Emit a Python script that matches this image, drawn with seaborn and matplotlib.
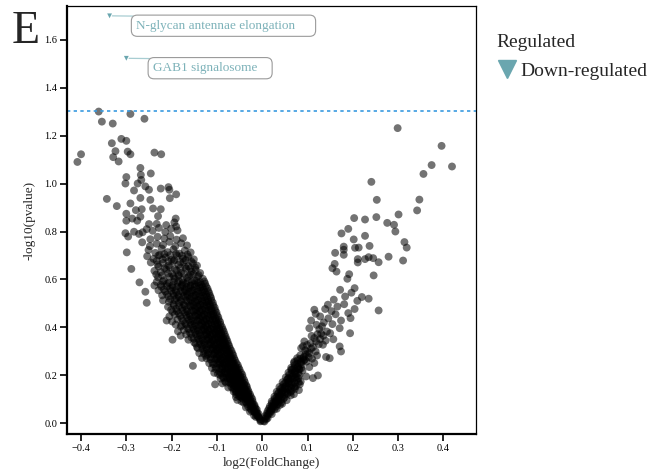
import numpy as np
import pandas as pd
import seaborn as sns
import matplotlib.pyplot as plt
from matplotlib.lines import Line2D
from matplotlib.patches import BoxStyle

# ---------------- data (log2 fold change, -log10 p) ----------------
left_core = [
    (-0.003,0.012),(-0.005,0.018),(-0.007,0.025),(-0.004,0.009),(-0.009,0.031),(-0.011,0.042),(-0.013,0.036),(-0.016,0.047),(-0.008,0.040),
    (-0.012,0.058),(-0.015,0.063),(-0.019,0.055),(-0.022,0.068),(-0.026,0.061),(-0.017,0.077),(-0.021,0.083),(-0.024,0.079),(-0.028,0.088),(-0.033,0.081),
    (-0.022,0.102),(-0.026,0.097),(-0.030,0.106),(-0.034,0.099),(-0.038,0.108),(-0.043,0.103),(-0.049,0.112),(-0.055,0.098),
    (-0.027,0.121),(-0.031,0.126),(-0.035,0.118),(-0.039,0.124),(-0.043,0.129),(-0.048,0.119),(-0.052,0.127),(-0.058,0.122),
    (-0.032,0.141),(-0.036,0.137),(-0.040,0.146),(-0.044,0.139),(-0.048,0.143),(-0.053,0.148),(-0.058,0.136),(-0.064,0.144),
    (-0.035,0.158),(-0.040,0.164),(-0.045,0.157),(-0.050,0.162),(-0.054,0.168),(-0.059,0.155),(-0.064,0.161),(-0.070,0.166),(-0.104,0.163),
    (-0.040,0.181),(-0.045,0.176),(-0.050,0.184),(-0.055,0.179),(-0.060,0.186),(-0.065,0.177),(-0.070,0.183),(-0.076,0.188),(-0.082,0.175),
    (-0.044,0.203),(-0.049,0.198),(-0.054,0.206),(-0.059,0.201),(-0.064,0.196),(-0.069,0.204),(-0.074,0.199),(-0.080,0.207),(-0.087,0.194),(-0.093,0.202),
    (-0.050,0.224),(-0.055,0.219),(-0.060,0.226),(-0.065,0.221),(-0.070,0.216),(-0.076,0.227),(-0.082,0.218),(-0.088,0.223),(-0.095,0.215),
    (-0.054,0.243),(-0.059,0.238),(-0.065,0.246),(-0.070,0.241),(-0.076,0.236),(-0.082,0.244),(-0.088,0.239),(-0.095,0.247),(-0.102,0.235),(-0.153,0.240),
    (-0.060,0.263),(-0.065,0.258),(-0.071,0.266),(-0.077,0.261),(-0.083,0.255),(-0.089,0.264),(-0.095,0.259),(-0.102,0.267),(-0.110,0.254),
    (-0.064,0.284),(-0.070,0.278),(-0.076,0.286),(-0.082,0.281),(-0.088,0.275),(-0.094,0.283),(-0.100,0.279),(-0.107,0.287),(-0.115,0.276),(-0.124,0.282),
    (-0.068,0.303),(-0.074,0.298),(-0.080,0.306),(-0.086,0.301),(-0.092,0.296),(-0.098,0.304),(-0.104,0.299),(-0.111,0.307),(-0.119,0.295),(-0.128,0.302),
    (-0.073,0.323),(-0.079,0.318),(-0.085,0.326),(-0.091,0.321),(-0.097,0.315),(-0.103,0.324),(-0.109,0.319),(-0.116,0.327),(-0.124,0.316),(-0.133,0.322),(-0.144,0.318),
    (-0.077,0.343),(-0.083,0.338),(-0.089,0.346),(-0.095,0.341),(-0.101,0.335),(-0.107,0.344),(-0.114,0.339),(-0.121,0.347),(-0.129,0.336),(-0.138,0.342),(-0.150,0.337),
]

left_fill = [
    (-0.010,0.030),(-0.014,0.027),(-0.018,0.033),
    (-0.013,0.051),(-0.018,0.048),(-0.023,0.053),(-0.027,0.049),
    (-0.017,0.071),(-0.021,0.068),(-0.026,0.073),(-0.031,0.070),(-0.036,0.067),
    (-0.021,0.091),(-0.026,0.088),(-0.031,0.093),(-0.036,0.090),(-0.041,0.087),(-0.046,0.092),
    (-0.025,0.111),(-0.030,0.114),(-0.035,0.109),(-0.041,0.113),(-0.046,0.108),(-0.052,0.114),(-0.058,0.110),
    (-0.030,0.132),(-0.035,0.129),(-0.041,0.134),(-0.046,0.131),(-0.051,0.135),(-0.057,0.130),(-0.063,0.133),
    (-0.034,0.152),(-0.039,0.149),(-0.045,0.153),(-0.051,0.150),(-0.056,0.154),(-0.062,0.148),(-0.068,0.152),(-0.075,0.150),
    (-0.038,0.171),(-0.044,0.169),(-0.049,0.173),(-0.055,0.170),(-0.061,0.174),(-0.067,0.168),(-0.073,0.172),(-0.080,0.170),(-0.088,0.167),
    (-0.043,0.192),(-0.048,0.189),(-0.054,0.193),(-0.060,0.190),(-0.066,0.194),(-0.072,0.188),(-0.078,0.192),(-0.085,0.190),(-0.092,0.187),
    (-0.047,0.212),(-0.053,0.209),(-0.058,0.213),(-0.064,0.210),(-0.070,0.214),(-0.076,0.208),(-0.083,0.212),(-0.090,0.210),(-0.098,0.207),(-0.106,0.211),
    (-0.052,0.232),(-0.057,0.229),(-0.063,0.233),(-0.069,0.230),(-0.075,0.234),(-0.081,0.228),(-0.088,0.232),(-0.095,0.230),(-0.103,0.227),(-0.111,0.231),
    (-0.057,0.252),(-0.063,0.249),(-0.068,0.253),(-0.074,0.250),(-0.080,0.254),(-0.086,0.248),(-0.093,0.252),(-0.100,0.250),(-0.108,0.247),(-0.117,0.251),
    (-0.062,0.272),(-0.067,0.269),(-0.073,0.273),(-0.079,0.270),(-0.085,0.274),(-0.092,0.268),(-0.099,0.272),(-0.106,0.270),(-0.114,0.267),(-0.123,0.271),(-0.133,0.273),
    (-0.066,0.292),(-0.072,0.289),(-0.078,0.293),(-0.084,0.290),(-0.091,0.294),(-0.097,0.288),(-0.104,0.292),(-0.112,0.290),(-0.120,0.287),(-0.129,0.291),(-0.139,0.293),
    (-0.071,0.312),(-0.077,0.309),(-0.083,0.313),(-0.089,0.310),(-0.095,0.314),(-0.101,0.308),(-0.108,0.312),(-0.115,0.310),(-0.123,0.307),(-0.132,0.311),(-0.142,0.313),
    (-0.075,0.332),(-0.081,0.329),(-0.087,0.333),(-0.093,0.330),(-0.099,0.334),(-0.106,0.328),(-0.113,0.332),(-0.120,0.330),(-0.128,0.327),(-0.137,0.331),(-0.147,0.333),
    (-0.079,0.352),(-0.085,0.349),(-0.091,0.353),(-0.097,0.350),(-0.103,0.354),(-0.110,0.348),(-0.117,0.352),(-0.124,0.350),(-0.132,0.347),(-0.141,0.351),(-0.151,0.353),(-0.163,0.349),
    (-0.083,0.372),(-0.090,0.369),(-0.096,0.373),(-0.102,0.370),(-0.108,0.374),(-0.115,0.368),(-0.122,0.372),(-0.129,0.370),(-0.137,0.367),(-0.146,0.371),(-0.157,0.373),
    (-0.087,0.392),(-0.094,0.389),(-0.100,0.393),(-0.106,0.390),(-0.113,0.394),(-0.120,0.388),(-0.127,0.392),(-0.134,0.390),(-0.142,0.387),(-0.151,0.391),(-0.162,0.393),
    (-0.092,0.412),(-0.098,0.409),(-0.104,0.413),(-0.111,0.410),(-0.118,0.414),(-0.125,0.408),(-0.132,0.412),(-0.140,0.410),(-0.148,0.407),(-0.157,0.411),(-0.168,0.413),
    (-0.096,0.432),(-0.102,0.429),(-0.109,0.433),(-0.116,0.430),(-0.123,0.434),(-0.130,0.428),(-0.137,0.432),(-0.145,0.430),(-0.153,0.427),(-0.162,0.431),
    (-0.100,0.452),(-0.107,0.449),(-0.113,0.453),(-0.120,0.450),(-0.127,0.454),(-0.134,0.448),(-0.142,0.452),(-0.150,0.450),(-0.159,0.447),(-0.168,0.451),
    (-0.104,0.472),(-0.111,0.469),(-0.118,0.473),(-0.125,0.470),(-0.132,0.474),(-0.139,0.468),(-0.147,0.472),(-0.156,0.470),(-0.165,0.467),
    (-0.108,0.492),(-0.115,0.489),(-0.122,0.493),(-0.129,0.490),(-0.136,0.494),(-0.144,0.488),(-0.152,0.492),(-0.161,0.490),
    (-0.112,0.512),(-0.119,0.509),(-0.126,0.513),(-0.133,0.510),(-0.141,0.514),(-0.149,0.508),(-0.157,0.512),
]

left_mid = [
    (-0.081,0.362),(-0.087,0.357),(-0.093,0.366),(-0.099,0.360),(-0.105,0.354),(-0.112,0.364),(-0.119,0.358),(-0.126,0.367),(-0.134,0.355),(-0.143,0.362),(-0.156,0.358),(-0.198,0.349),
    (-0.085,0.383),(-0.091,0.378),(-0.098,0.386),(-0.104,0.380),(-0.110,0.375),(-0.117,0.384),(-0.124,0.379),(-0.131,0.387),(-0.139,0.376),(-0.148,0.382),(-0.160,0.378),
    (-0.089,0.402),(-0.095,0.397),(-0.101,0.405),(-0.108,0.400),(-0.115,0.394),(-0.122,0.403),(-0.129,0.398),(-0.136,0.406),(-0.144,0.395),(-0.153,0.401),(-0.165,0.397),(-0.180,0.404),
    (-0.093,0.423),(-0.099,0.418),(-0.106,0.426),(-0.113,0.421),(-0.120,0.415),(-0.127,0.424),(-0.134,0.419),(-0.142,0.427),(-0.150,0.416),(-0.159,0.422),(-0.170,0.418),(-0.211,0.429),
    (-0.097,0.443),(-0.103,0.438),(-0.110,0.446),(-0.117,0.441),(-0.124,0.435),(-0.131,0.444),(-0.139,0.439),(-0.147,0.447),(-0.156,0.436),(-0.166,0.442),(-0.178,0.438),
    (-0.101,0.463),(-0.108,0.458),(-0.114,0.466),(-0.121,0.461),(-0.129,0.455),(-0.136,0.464),(-0.144,0.459),(-0.152,0.467),(-0.161,0.456),(-0.171,0.462),(-0.184,0.458),(-0.198,0.465),
    (-0.105,0.483),(-0.112,0.478),(-0.119,0.486),(-0.126,0.481),(-0.134,0.475),(-0.141,0.484),(-0.149,0.479),(-0.158,0.487),(-0.167,0.476),(-0.177,0.482),(-0.190,0.478),
    (-0.109,0.503),(-0.116,0.498),(-0.123,0.506),(-0.131,0.501),(-0.138,0.495),(-0.146,0.504),(-0.155,0.499),(-0.164,0.507),(-0.173,0.496),(-0.184,0.502),(-0.196,0.498),(-0.255,0.503),
    (-0.113,0.523),(-0.120,0.518),(-0.128,0.526),(-0.135,0.521),(-0.143,0.515),(-0.151,0.524),(-0.160,0.519),(-0.169,0.527),(-0.179,0.516),(-0.190,0.522),(-0.203,0.518),
    (-0.117,0.543),(-0.124,0.538),(-0.132,0.546),(-0.140,0.541),(-0.148,0.535),(-0.157,0.544),(-0.166,0.539),(-0.175,0.547),(-0.185,0.536),(-0.196,0.542),(-0.210,0.538),(-0.258,0.549),
    (-0.121,0.563),(-0.129,0.558),(-0.137,0.566),(-0.145,0.561),(-0.154,0.555),(-0.162,0.564),(-0.171,0.559),(-0.181,0.567),(-0.191,0.556),(-0.203,0.562),(-0.217,0.558),
    (-0.126,0.583),(-0.134,0.578),(-0.142,0.586),(-0.150,0.581),(-0.159,0.575),(-0.168,0.584),(-0.177,0.579),(-0.187,0.587),(-0.198,0.576),(-0.210,0.582),(-0.224,0.578),(-0.271,0.588),
]

left_mid_fill = [
    (-0.168,0.371),(-0.180,0.366),(-0.173,0.389),(-0.186,0.384),(-0.178,0.409),(-0.191,0.412),(-0.175,0.428),(-0.187,0.433),
    (-0.199,0.425),(-0.181,0.449),(-0.193,0.454),(-0.205,0.446),(-0.176,0.470),(-0.188,0.468),(-0.201,0.474),(-0.171,0.491),
    (-0.183,0.488),(-0.195,0.493),(-0.208,0.486),(-0.168,0.512),(-0.180,0.509),(-0.193,0.514),(-0.206,0.507),(-0.219,0.513),
    (-0.115,0.532),(-0.123,0.529),(-0.131,0.534),(-0.139,0.530),(-0.147,0.535),(-0.156,0.528),(-0.165,0.533),(-0.174,0.531),(-0.184,0.527),(-0.195,0.532),(-0.207,0.530),(-0.221,0.534),
    (-0.119,0.552),(-0.127,0.549),(-0.135,0.554),(-0.143,0.550),(-0.152,0.555),(-0.161,0.548),(-0.170,0.553),(-0.180,0.551),(-0.190,0.547),(-0.201,0.552),(-0.214,0.550),(-0.229,0.555),
    (-0.124,0.572),(-0.132,0.569),(-0.140,0.574),(-0.149,0.570),(-0.158,0.575),(-0.167,0.568),(-0.177,0.573),(-0.187,0.571),(-0.198,0.567),(-0.210,0.572),(-0.223,0.570),(-0.238,0.575),
    (-0.128,0.592),(-0.137,0.589),(-0.146,0.594),(-0.155,0.590),(-0.164,0.595),(-0.174,0.588),(-0.184,0.593),(-0.195,0.591),(-0.206,0.587),(-0.219,0.592),(-0.233,0.590),
    (-0.140,0.618),(-0.152,0.622),(-0.162,0.615),(-0.173,0.624),(-0.185,0.619),(-0.196,0.613),(-0.208,0.625),(-0.221,0.617),(-0.234,0.621),
    (-0.148,0.650),(-0.159,0.646),(-0.170,0.653),(-0.181,0.648),(-0.193,0.644),(-0.204,0.652),(-0.216,0.647),(-0.229,0.654),
    (-0.157,0.676),(-0.169,0.681),(-0.181,0.673),(-0.194,0.680),(-0.207,0.675),(-0.220,0.684),(-0.233,0.678),
    (-0.165,0.704),(-0.177,0.699),(-0.190,0.707),(-0.203,0.702),(-0.216,0.706),(-0.229,0.700),
]

left_upper = [
    (-0.131,0.603),(-0.142,0.612),(-0.150,0.596),(-0.158,0.621),(-0.166,0.607),(-0.176,0.598),(-0.184,0.616),(-0.193,0.604),(-0.205,0.611),(-0.217,0.597),(-0.230,0.609),
    (-0.137,0.627),(-0.147,0.640),(-0.156,0.633),(-0.168,0.645),(-0.179,0.628),(-0.189,0.638),(-0.199,0.624),(-0.212,0.642),(-0.224,0.631),(-0.238,0.636),(-0.289,0.644),
    (-0.144,0.658),(-0.153,0.668),(-0.163,0.655),(-0.174,0.672),(-0.185,0.661),(-0.196,0.676),(-0.207,0.657),(-0.219,0.669),(-0.231,0.663),(-0.246,0.671),
    (-0.151,0.684),(-0.163,0.694),(-0.175,0.687),(-0.188,0.699),(-0.200,0.683),(-0.213,0.692),(-0.226,0.702),(-0.240,0.686),(-0.254,0.697),
    (-0.158,0.713),(-0.171,0.721),(-0.183,0.708),(-0.196,0.726),(-0.209,0.714),(-0.222,0.729),(-0.236,0.711),(-0.251,0.723),(-0.299,0.713),
    (-0.166,0.742),(-0.179,0.751),(-0.192,0.738),(-0.205,0.757),(-0.219,0.744),(-0.233,0.749),(-0.248,0.739),(-0.265,0.755),
    (-0.175,0.772),(-0.189,0.766),(-0.203,0.781),(-0.216,0.771),(-0.231,0.778),(-0.247,0.768),
    (-0.302,0.793),(-0.296,0.779),(-0.283,0.799),(-0.272,0.790),(-0.264,0.797),(-0.255,0.810),
    (-0.187,0.805),(-0.201,0.812),(-0.214,0.798),(-0.228,0.815),(-0.242,0.803),
    (-0.212,0.827),(-0.233,0.832),(-0.250,0.831),(-0.276,0.845),(-0.300,0.845),(-0.287,0.854),(-0.269,0.862),
    (-0.191,0.854),(-0.194,0.838),(-0.190,0.821),(-0.230,0.864),(-0.224,0.893),(-0.241,0.896),(-0.266,0.893),
    (-0.279,0.889),(-0.300,0.874),(-0.291,0.917),(-0.247,0.932),(-0.269,0.940),(-0.321,0.906),(-0.343,0.936),
    (-0.204,0.939),(-0.190,0.955),(-0.205,0.974),(-0.207,0.985),(-0.224,0.979),(-0.283,0.971),(-0.250,0.974),
    (-0.258,0.988),(-0.267,1.015),(-0.275,1.000),(-0.302,1.000),(-0.300,1.027),(-0.268,1.036),(-0.246,1.042),
    (-0.269,1.065),(-0.223,1.122),(-0.238,1.129),(-0.291,1.122),(-0.297,1.133),(-0.317,1.092),(-0.329,1.110),
    (-0.324,1.135),(-0.300,1.178),(-0.311,1.186),(-0.332,1.168),(-0.408,1.090),(-0.400,1.122),
    (-0.260,1.270),(-0.291,1.290),(-0.330,1.250),(-0.354,1.258),(-0.361,1.300),
]

right_core = [
    (0.003,0.010),(0.005,0.008),(0.006,0.021),(0.009,0.018),(0.012,0.022),
    (0.010,0.041),(0.013,0.037),(0.017,0.043),(0.021,0.039),
    (0.015,0.062),(0.019,0.057),(0.023,0.064),(0.027,0.059),(0.032,0.061),
    (0.021,0.083),(0.025,0.078),(0.029,0.085),(0.034,0.080),(0.039,0.077),(0.044,0.082),
    (0.027,0.102),(0.031,0.097),(0.036,0.105),(0.041,0.099),(0.047,0.103),(0.054,0.097),
    (0.034,0.123),(0.039,0.118),(0.044,0.126),(0.050,0.120),(0.056,0.124),(0.063,0.117),(0.070,0.122),
    (0.040,0.143),(0.045,0.138),(0.051,0.146),(0.057,0.141),(0.064,0.136),(0.072,0.144),(0.081,0.139),
    (0.047,0.163),(0.053,0.158),(0.059,0.166),(0.066,0.160),(0.074,0.155),(0.083,0.163),
    (0.055,0.183),(0.061,0.178),(0.068,0.186),(0.076,0.181),(0.085,0.175),
    (0.060,0.203),(0.067,0.198),(0.074,0.206),(0.082,0.201),
    (0.066,0.224),(0.073,0.219),(0.081,0.227),(0.089,0.221),
    (0.072,0.244),(0.079,0.238),(0.087,0.246),
    (0.078,0.263),(0.086,0.258),(0.094,0.266),
    (0.084,0.284),(0.092,0.278),
]

right_fill = [
    (0.007,0.031),(0.010,0.028),
    (0.012,0.052),(0.016,0.049),(0.020,0.051),
    (0.017,0.072),(0.021,0.069),(0.026,0.073),(0.030,0.070),
    (0.021,0.092),(0.026,0.089),(0.031,0.093),(0.036,0.090),(0.042,0.088),
    (0.027,0.112),(0.032,0.109),(0.037,0.113),(0.043,0.110),(0.049,0.108),
    (0.032,0.132),(0.037,0.129),(0.043,0.133),(0.049,0.130),(0.056,0.128),(0.063,0.131),
    (0.038,0.152),(0.044,0.149),(0.050,0.153),(0.057,0.150),(0.064,0.148),(0.071,0.151),
    (0.045,0.172),(0.051,0.169),(0.058,0.173),(0.065,0.170),(0.072,0.168),(0.080,0.171),
    (0.052,0.192),(0.058,0.189),(0.065,0.193),(0.072,0.190),(0.080,0.188),
    (0.058,0.212),(0.065,0.209),(0.072,0.213),(0.080,0.210),
    (0.064,0.232),(0.071,0.229),(0.078,0.233),(0.086,0.230),
    (0.070,0.252),(0.077,0.249),(0.085,0.253),
    (0.077,0.272),(0.084,0.269),(0.091,0.273),
    (0.095,0.305),(0.101,0.298),(0.108,0.312),(0.090,0.322),(0.099,0.327),(0.107,0.335),(0.112,0.318),
    (0.096,0.288),(0.103,0.276),(0.092,0.262),(0.110,0.270),(0.121,0.283),(0.125,0.330),(0.119,0.342),
    (0.128,0.352),(0.135,0.366),(0.122,0.372),(0.109,0.365),(0.143,0.383),(0.132,0.405),(0.120,0.411),
    (0.146,0.438),(0.162,0.455),(0.153,0.468),(0.128,0.446),(0.166,0.487),(0.183,0.529),(0.197,0.545),(0.158,0.516),
]

right_upper = [
    (0.299,1.231),(0.396,1.157),(0.374,1.077),(0.419,1.071),(0.356,1.040),(0.241,1.007),(0.253,0.932),
    (0.347,0.933),(0.342,0.888),(0.301,0.871),(0.203,0.856),(0.227,0.850),(0.252,0.860),(0.276,0.836),
    (0.291,0.828),(0.294,0.800),(0.190,0.811),(0.175,0.792),(0.202,0.767),(0.227,0.782),(0.314,0.756),
    (0.319,0.733),(0.180,0.737),(0.180,0.724),(0.180,0.703),(0.161,0.711),(0.205,0.732),(0.213,0.733),
    (0.237,0.740),(0.211,0.685),(0.211,0.671),(0.227,0.685),(0.235,0.693),(0.245,0.689),(0.257,0.672),
    (0.279,0.695),(0.311,0.679),(0.160,0.665),(0.155,0.647),(0.164,0.633),(0.192,0.622),(0.188,0.603),
    (0.246,0.617),(0.204,0.564),(0.172,0.557),(0.220,0.527),(0.235,0.520),(0.210,0.511),(0.181,0.497),
    (0.257,0.471),(0.204,0.477),(0.190,0.460),(0.195,0.439),(0.194,0.376),(0.174,0.429),(0.171,0.397),
    (0.145,0.495),(0.139,0.477),(0.115,0.474),(0.118,0.457),(0.108,0.429),(0.136,0.421),(0.155,0.414),
    (0.126,0.393),(0.150,0.376),(0.104,0.397),(0.130,0.374),(0.157,0.351),(0.140,0.345),(0.115,0.356),
    (0.134,0.328),(0.093,0.342),(0.118,0.300),(0.171,0.321),(0.174,0.300),(0.086,0.314),(0.104,0.293),
    (0.141,0.277),(0.149,0.272),(0.071,0.258),(0.098,0.258),(0.115,0.252),(0.064,0.224),(0.082,0.226),
    (0.104,0.235),(0.123,0.200),(0.097,0.196),(0.112,0.189),(0.075,0.196),(0.057,0.185),
]

down_fc = [-0.337, -0.300]
down_p = [1.699, 1.522]
down_labels = ["N-glycan antennae elongation", "GAB1 signalosome"]

x_ticks = [-0.4, -0.3, -0.2, -0.1, 0.0, 0.1, 0.2, 0.3, 0.4]
y_ticks = [0.0, 0.2, 0.4, 0.6, 0.8, 1.0, 1.2, 1.4, 1.6]

# ---------------- styling ----------------
sns.set_theme(style="white")
plt.rcParams['font.family'] = ['Liberation Serif', 'DejaVu Serif']

TEAL = '#6aa6af'
TEXT_TEAL = '#7db2b9'

pts = (left_core + left_fill + left_mid + left_mid_fill + left_upper
       + right_core + right_fill + right_upper)
df = pd.DataFrame(pts, columns=['log2FC', 'nlp'])
down_df = pd.DataFrame({'log2FC': down_fc, 'nlp': down_p, 'Regulated': 'Down-regulated'})

fig = plt.figure(figsize=(6.58, 4.76), dpi=100)
ax = fig.add_axes([67/658, 1-434/476, (476-67)/658, (434-6)/476])

sns.scatterplot(data=df, x='log2FC', y='nlp', color='black', alpha=0.55, s=32,
                edgecolor='none', linewidth=0, legend=False, ax=ax)
sns.scatterplot(data=down_df, x='log2FC', y='nlp', color=TEAL, marker='v', s=12,
                edgecolor='none', linewidth=0, legend=False, ax=ax, zorder=4)

ax.axhline(-np.log10(0.05), color='#3a9be0', lw=1.2, ls=(0, (2, 2)), zorder=1)

ax.set_xlim(-0.431, 0.472)
ax.set_ylim(-0.044, 1.74)
ax.set_xticks(x_ticks)
ax.set_yticks(y_ticks)
ax.set_xticklabels([f"{v:.1f}".replace('-', '\u2212') for v in x_ticks])
ax.set_yticklabels([f"{v:.1f}" for v in y_ticks])
ax.tick_params(axis='both', direction='out', length=5, width=1.2, labelsize=7.5,
               colors='black', pad=2, bottom=True, left=True)
ax.set_xlabel('log2(FoldChange)', fontsize=9.5, labelpad=3)
ax.set_ylabel('-log10(pvalue)', fontsize=9.5, labelpad=6)

for side in ['left', 'bottom']:
    ax.spines[side].set_linewidth(1.6)
    ax.spines[side].set_color('black')
for side in ['top', 'right']:
    ax.spines[side].set_linewidth(0.9)
    ax.spines[side].set_color('black')

# labels with rounded boxes (extra right padding like ggrepel)
_round = BoxStyle.Round(pad=0.35, rounding_size=0.45)
def wide_round(x0, y0, width, height, mutation_size):
    return _round(x0, y0, width * 1.1, height, mutation_size)

for fx, py, lab in zip(down_fc, down_p, down_labels):
    ax.annotate(lab, xy=(fx, py), xytext=(19, -2.8), textcoords='offset points',
                ha='left', va='top', fontsize=9.5, color=TEXT_TEAL,
                bbox=dict(boxstyle=wide_round, fc='white', ec='#9a9a9a', lw=0.8),
                arrowprops=dict(arrowstyle='-', color='#a8cdd2', lw=0.9,
                                relpos=(0, 1.3), shrinkA=0, shrinkB=2))

handles = [Line2D([], [], marker='v', linestyle='none', color=TEAL, markersize=13)]
leg = fig.legend(handles, ['Down-regulated'], title='Regulated', loc='upper left',
                 bbox_to_anchor=(489/658, 1-26/476), frameon=False, fontsize=14,
                 title_fontsize=14, alignment='left', handletextpad=0.2,
                 handlelength=1.0, borderaxespad=0, labelspacing=0.6)

fig.text(12/658, 1-43/476, 'E', fontsize=33, va='baseline', ha='left')

fig.savefig('out.png', dpi=100)
